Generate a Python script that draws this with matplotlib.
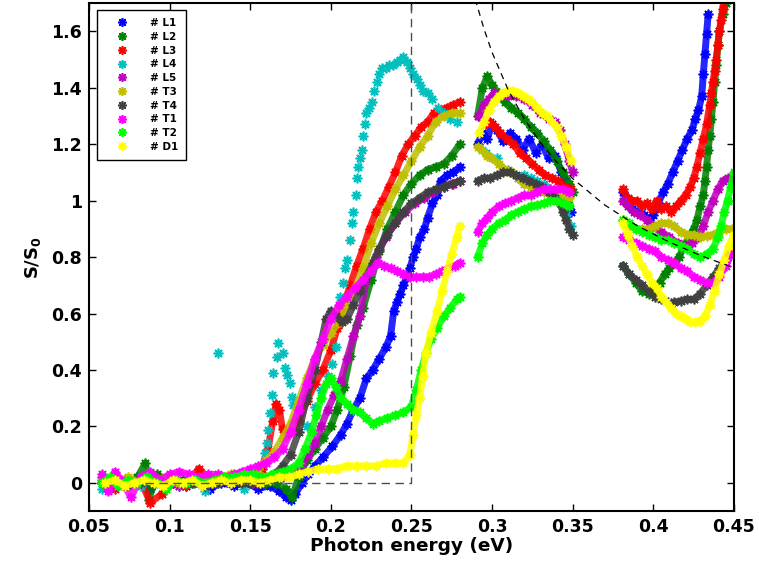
import numpy as np
import matplotlib
matplotlib.use("Agg")
import matplotlib.pyplot as plt

nan = np.nan

# photoresponse S/S0 vs photon energy, three spectral windows per sample (nan splits them)
l1_x = [0.058, 0.065, 0.072, 0.08, 0.088, 0.095, 0.102, 0.11, 0.118, 0.125, 0.132, 0.14, 0.147, 0.155, 0.162,
        0.168, 0.172, 0.175, 0.178, 0.182, 0.186, 0.19, 0.195, 0.201, 0.206, 0.21, 0.214, 0.218, 0.222, 0.226,
        0.23, 0.234, 0.237, 0.239, 0.241, 0.243, 0.245, 0.247, 0.249, 0.251, 0.253, 0.255, 0.258, 0.26, 0.263,
        0.266, 0.268, 0.272, 0.276, 0.28, nan,
        0.291, 0.294, 0.297, 0.3, 0.303, 0.307, 0.311, 0.315, 0.319, 0.323, 0.327, 0.331, 0.335, 0.339, 0.343,
        0.346, 0.349, nan,
        0.381, 0.384, 0.387, 0.39, 0.394, 0.397, 0.4, 0.403, 0.406, 0.409, 0.412, 0.415, 0.418, 0.421, 0.424,
        0.426, 0.428, 0.43, 0.431, 0.432, 0.433, 0.434]
l1_y = [0.0, -0.01, 0.01, 0.0, -0.02, 0.01, 0.0, -0.01, 0.0, -0.02, 0.0, -0.01, 0.0, -0.02, -0.01,
        -0.03, -0.05, -0.06, -0.04, 0.0, 0.03, 0.06, 0.09, 0.13, 0.17, 0.21, 0.26, 0.3, 0.37, 0.4,
        0.44, 0.48, 0.52, 0.61, 0.64, 0.67, 0.7, 0.73, 0.76, 0.8, 0.83, 0.87, 0.9, 0.94, 0.99,
        1.02, 1.07, 1.09, 1.1, 1.12, nan,
        1.2, 1.24, 1.22, 1.27, 1.25, 1.21, 1.24, 1.22, 1.18, 1.22, 1.17, 1.2, 1.15, 1.16, 1.1,
        1.07, 0.96, nan,
        1.03, 1.0, 0.97, 0.96, 0.95, 0.93, 0.95, 0.99, 1.03, 1.06, 1.1, 1.14, 1.18, 1.22, 1.25,
        1.29, 1.32, 1.37, 1.45, 1.52, 1.59, 1.66]

l2_x = [0.058, 0.065, 0.072, 0.08, 0.085, 0.087, 0.092, 0.1, 0.108, 0.115, 0.122, 0.13, 0.138, 0.145, 0.152,
        0.16, 0.166, 0.172, 0.176, 0.18, 0.185, 0.19, 0.195, 0.2, 0.204, 0.208, 0.212, 0.216, 0.22, 0.225,
        0.23, 0.235, 0.24, 0.245, 0.25, 0.255, 0.26, 0.265, 0.27, 0.275, 0.28, nan,
        0.291, 0.294, 0.297, 0.3, 0.304, 0.308, 0.312, 0.316, 0.32, 0.324, 0.328, 0.332, 0.336, 0.34, 0.344,
        0.348, 0.35, nan,
        0.381, 0.385, 0.389, 0.393, 0.397, 0.401, 0.404, 0.407, 0.41, 0.413, 0.416, 0.419, 0.422, 0.425, 0.427,
        0.429, 0.431, 0.432, 0.433, 0.434, 0.435, 0.436, 0.437, 0.438, 0.439, 0.44, 0.441, 0.443, 0.445]
l2_y = [0.0, 0.01, -0.01, 0.02, 0.07, -0.06, 0.03, 0.0, 0.01, 0.0, -0.01, 0.01, 0.0, 0.0, 0.01,
        0.0, 0.0, -0.02, -0.05, 0.02, 0.08, 0.12, 0.16, 0.2, 0.26, 0.34, 0.45, 0.56, 0.62, 0.72,
        0.82, 0.9, 0.96, 1.02, 1.06, 1.09, 1.11, 1.12, 1.13, 1.16, 1.2, nan,
        1.3, 1.4, 1.44, 1.41, 1.38, 1.35, 1.33, 1.31, 1.29, 1.26, 1.24, 1.21, 1.18, 1.14, 1.1,
        1.06, 1.03, nan,
        0.77, 0.74, 0.71, 0.68, 0.67, 0.68, 0.71, 0.74, 0.76, 0.78, 0.8, 0.84, 0.87, 0.9, 0.93,
        0.98, 1.02, 1.07, 1.12, 1.18, 1.23, 1.29, 1.35, 1.42, 1.48, 1.55, 1.6, 1.66, 1.7]

l3_x = [0.058, 0.066, 0.074, 0.082, 0.088, 0.095, 0.102, 0.11, 0.118, 0.126, 0.133, 0.14, 0.147, 0.152,
        0.157, 0.161, 0.164, 0.166, 0.168, 0.17, 0.172, 0.175, 0.18, 0.185, 0.19, 0.195, 0.2, 0.204, 0.208,
        0.212, 0.216, 0.22, 0.224, 0.228, 0.232, 0.236, 0.24, 0.244, 0.248, 0.252, 0.256, 0.26, 0.264, 0.268,
        0.272, 0.276, 0.28, nan,
        0.296, 0.299, 0.302, 0.305, 0.309, 0.313, 0.317, 0.321, 0.325, 0.329, 0.333, 0.337, 0.341, 0.345,
        0.349, nan,
        0.381, 0.384, 0.387, 0.39, 0.393, 0.396, 0.399, 0.402, 0.405, 0.408, 0.411, 0.414, 0.417, 0.42, 0.423,
        0.425, 0.427, 0.429, 0.431, 0.433, 0.435, 0.436, 0.437, 0.438, 0.439, 0.44, 0.441, 0.442, 0.443, 0.444]
l3_y = [0.01, -0.02, 0.0, 0.01, -0.07, -0.04, 0.0, -0.01, 0.05, 0.0, 0.01, 0.02, 0.03, 0.0,
        0.05, 0.12, 0.22, 0.28, 0.26, 0.19, 0.17, 0.18, 0.22, 0.29, 0.35, 0.4, 0.47, 0.55, 0.63,
        0.7, 0.77, 0.83, 0.9, 0.96, 1.0, 1.05, 1.1, 1.16, 1.2, 1.23, 1.26, 1.28, 1.31, 1.32,
        1.33, 1.34, 1.35, nan,
        1.27, 1.28, 1.26, 1.24, 1.22, 1.2, 1.17, 1.15, 1.13, 1.11, 1.09, 1.08, 1.07, 1.05,
        1.04, nan,
        1.04, 1.01, 1.0, 1.0, 0.98, 0.99, 0.97, 1.0, 0.97, 0.98, 0.96, 0.98, 1.0, 1.02, 1.05,
        1.08, 1.12, 1.17, 1.22, 1.27, 1.34, 1.38, 1.42, 1.46, 1.5, 1.55, 1.6, 1.64, 1.68, 1.72]

# L4 is sparse, markers only
l4_x = [0.058, 0.066, 0.074, 0.082, 0.09, 0.098, 0.106, 0.114, 0.122, 0.13, 0.138, 0.146, 0.152,
        0.1591, 0.1602, 0.1612, 0.1622, 0.1633, 0.1643, 0.1664, 0.1674, 0.1705, 0.1715, 0.1726, 0.1747,
        0.1757, 0.1767, 0.185, 0.19, 0.194, 0.198, 0.201, 0.203, 0.2057, 0.2076, 0.209, 0.21, 0.212, 0.213,
        0.214, 0.2155, 0.216, 0.217, 0.218, 0.219, 0.22, 0.221, 0.222, 0.2235, 0.2256, 0.227, 0.2286, 0.23,
        0.232, 0.234, 0.236, 0.2386, 0.241, 0.243, 0.2447, 0.247, 0.249, 0.251, 0.2534, 0.255, 0.257, 0.26,
        0.2627, 0.2665, 0.27, 0.274, 0.278, nan,
        0.296, 0.303, 0.31, 0.316, 0.32, 0.324, 0.328, 0.332, 0.336, 0.34, 0.343, 0.346, 0.349]
l4_y = [-0.02, 0.01, 0.0, -0.01, 0.02, 0.0, -0.01, 0.0, -0.03, 0.46, 0.0, -0.02, 0.01,
        0.106, 0.141, 0.188, 0.247, 0.311, 0.388, 0.447, 0.494, 0.459, 0.406, 0.382, 0.353,
        0.306, 0.276, 0.2, 0.27, 0.33, 0.38, 0.42, 0.48, 0.66, 0.71, 0.76, 0.79, 0.86, 0.92,
        0.96, 1.02, 1.08, 1.12, 1.15, 1.18, 1.23, 1.27, 1.31, 1.33, 1.35, 1.39, 1.42, 1.45,
        1.47, 1.47, 1.48, 1.48, 1.49, 1.5, 1.51, 1.49, 1.47, 1.45, 1.43, 1.41, 1.39, 1.38,
        1.36, 1.33, 1.31, 1.29, 1.28, nan,
        1.17, 1.15, 1.11, 1.08, 1.09, 1.08, 1.07, 1.06, 1.04, 1.02, 0.99, 0.95, 0.91]

l5_x = [0.058, 0.066, 0.074, 0.082, 0.09, 0.098, 0.106, 0.114, 0.122, 0.13, 0.138, 0.146, 0.154, 0.162,
        0.17, 0.176, 0.182, 0.186, 0.19, 0.194, 0.198, 0.202, 0.206, 0.21, 0.214, 0.218, 0.222, 0.228, 0.234,
        0.24, 0.246, 0.252, 0.258, 0.264, 0.27, 0.276, 0.28, nan,
        0.292, 0.295, 0.298, 0.301, 0.305, 0.31, 0.315, 0.32, 0.325, 0.33, 0.335, 0.339, 0.342, 0.345, 0.348,
        0.35, nan,
        0.381, 0.384, 0.388, 0.392, 0.396, 0.4, 0.405, 0.41, 0.415, 0.42, 0.424, 0.428, 0.431, 0.434, 0.437,
        0.44, 0.443, 0.446, 0.449]
l5_y = [0.02, -0.01, 0.01, 0.0, 0.02, 0.0, -0.01, 0.01, 0.0, 0.02, 0.0, 0.01, 0.0, 0.01,
        0.02, 0.04, 0.07, 0.1, 0.14, 0.2, 0.26, 0.31, 0.36, 0.44, 0.52, 0.59, 0.72, 0.8, 0.87,
        0.92, 0.96, 0.99, 1.01, 1.03, 1.05, 1.06, 1.07, nan,
        1.3, 1.34, 1.36, 1.38, 1.37, 1.37, 1.37, 1.36, 1.34, 1.31, 1.29, 1.28, 1.25, 1.2, 1.14,
        1.1, nan,
        1.0, 0.98, 0.96, 0.95, 0.93, 0.91, 0.89, 0.87, 0.85, 0.84, 0.85, 0.87, 0.91, 0.96, 1.0,
        1.04, 1.07, 1.08, 1.08]

t3_x = [0.058, 0.066, 0.074, 0.082, 0.09, 0.098, 0.106, 0.114, 0.122, 0.13, 0.138, 0.145, 0.15, 0.155,
        0.16, 0.165, 0.17, 0.175, 0.18, 0.185, 0.19, 0.195, 0.2, 0.205, 0.21, 0.215, 0.22, 0.225, 0.23,
        0.235, 0.24, 0.245, 0.25, 0.255, 0.26, 0.265, 0.27, 0.275, 0.28, nan,
        0.291, 0.294, 0.297, 0.3, 0.304, 0.308, 0.312, 0.316, 0.32, 0.324, 0.328, 0.332, 0.336, 0.34, 0.344,
        0.348, nan,
        0.381, 0.385, 0.389, 0.393, 0.397, 0.401, 0.405, 0.409, 0.413, 0.417, 0.421, 0.425, 0.429, 0.433,
        0.437, 0.441, 0.445, 0.449]
t3_y = [0.01, 0.0, 0.02, 0.0, 0.01, 0.02, 0.0, 0.01, 0.02, 0.02, 0.03, 0.03, 0.03, 0.05,
        0.08, 0.11, 0.16, 0.21, 0.29, 0.37, 0.44, 0.49, 0.53, 0.57, 0.63, 0.69, 0.76, 0.85, 0.92,
        0.98, 1.04, 1.09, 1.14, 1.19, 1.23, 1.28, 1.3, 1.31, 1.31, nan,
        1.19, 1.18, 1.16, 1.15, 1.13, 1.11, 1.1, 1.08, 1.06, 1.05, 1.04, 1.03, 1.02, 1.02, 1.01,
        1.01, nan,
        0.93, 0.91, 0.9, 0.9, 0.9, 0.91, 0.92, 0.92, 0.91, 0.89, 0.88, 0.88, 0.87, 0.875,
        0.88, 0.89, 0.9, 0.9]

t4_x = [0.058, 0.066, 0.074, 0.082, 0.09, 0.098, 0.106, 0.114, 0.122, 0.13, 0.138, 0.145, 0.15, 0.158,
        0.165, 0.17, 0.175, 0.18, 0.185, 0.19, 0.194, 0.197, 0.2, 0.203, 0.207, 0.21, 0.214, 0.218, 0.222,
        0.226, 0.23, 0.235, 0.24, 0.245, 0.25, 0.255, 0.26, 0.265, 0.27, 0.275, 0.28, nan,
        0.291, 0.295, 0.299, 0.303, 0.307, 0.311, 0.315, 0.319, 0.323, 0.327, 0.331, 0.335, 0.339, 0.342,
        0.344, 0.346, 0.348, 0.35, nan,
        0.381, 0.385, 0.389, 0.393, 0.397, 0.401, 0.405, 0.409, 0.413, 0.417, 0.421, 0.425, 0.429, 0.433,
        0.437, 0.441, 0.445, 0.449]
t4_y = [0.0, 0.01, -0.01, 0.0, 0.01, 0.0, 0.01, 0.0, -0.01, 0.0, 0.01, 0.0, 0.0, 0.01,
        0.03, 0.06, 0.1, 0.18, 0.3, 0.4, 0.5, 0.58, 0.61, 0.59, 0.57, 0.58, 0.63, 0.68, 0.73,
        0.78, 0.83, 0.88, 0.92, 0.96, 0.99, 1.01, 1.03, 1.04, 1.05, 1.06, 1.07, nan,
        1.07, 1.08, 1.08, 1.09, 1.1, 1.1, 1.09, 1.08, 1.07, 1.06, 1.05, 1.03, 1.01, 0.99,
        0.96, 0.93, 0.9, 0.88, nan,
        0.77, 0.74, 0.72, 0.7, 0.68, 0.66, 0.65, 0.64, 0.64, 0.645, 0.65, 0.65, 0.67, 0.7,
        0.73, 0.76, 0.79, 0.83]

t1_x = [0.058, 0.062, 0.066, 0.07, 0.076, 0.082, 0.088, 0.094, 0.1, 0.106, 0.112, 0.118, 0.124, 0.13,
        0.136, 0.14, 0.145, 0.15, 0.155, 0.16, 0.165, 0.17, 0.175, 0.18, 0.185, 0.19, 0.195, 0.2, 0.205,
        0.21, 0.215, 0.22, 0.225, 0.229, 0.233, 0.237, 0.241, 0.245, 0.249, 0.253, 0.257, 0.261, 0.265,
        0.269, 0.273, 0.277, 0.28, nan,
        0.291, 0.294, 0.297, 0.3, 0.304, 0.308, 0.312, 0.316, 0.32, 0.324, 0.328, 0.332, 0.336, 0.34, 0.344,
        0.348, nan,
        0.381, 0.385, 0.389, 0.393, 0.397, 0.401, 0.405, 0.409, 0.413, 0.417, 0.421, 0.425, 0.429, 0.433,
        0.437, 0.441, 0.445, 0.449]
t1_y = [0.03, -0.03, 0.04, 0.01, -0.05, 0.02, 0.04, 0.01, 0.03, 0.04, 0.03, 0.02, 0.03, 0.03,
        0.02, 0.03, 0.04, 0.05, 0.06, 0.07, 0.09, 0.12, 0.18, 0.26, 0.35, 0.44, 0.51, 0.58, 0.63,
        0.66, 0.69, 0.72, 0.75, 0.78, 0.77, 0.76, 0.75, 0.74, 0.73, 0.73, 0.73, 0.73, 0.74,
        0.75, 0.76, 0.77, 0.78, nan,
        0.89, 0.92, 0.94, 0.96, 0.98, 0.99, 1.0, 1.01, 1.02, 1.02, 1.03, 1.04, 1.04, 1.04, 1.04,
        1.03, nan,
        0.87, 0.86, 0.85, 0.84, 0.83, 0.82, 0.8, 0.79, 0.78, 0.76, 0.75, 0.73, 0.72, 0.71,
        0.71, 0.73, 0.77, 0.82]

t2_x = [0.058, 0.063, 0.068, 0.074, 0.08, 0.086, 0.092, 0.098, 0.104, 0.11, 0.116, 0.122, 0.128, 0.134,
        0.14, 0.146, 0.152, 0.158, 0.164, 0.17, 0.175, 0.18, 0.184, 0.188, 0.191, 0.194, 0.197, 0.2, 0.203,
        0.206, 0.21, 0.214, 0.218, 0.222, 0.226, 0.23, 0.235, 0.24, 0.245, 0.25, 0.253, 0.256, 0.259, 0.262,
        0.266, 0.27, 0.274, 0.278, 0.28, nan,
        0.291, 0.294, 0.297, 0.3, 0.304, 0.308, 0.312, 0.316, 0.32, 0.324, 0.328, 0.332, 0.336, 0.34, 0.344,
        0.348, nan,
        0.381, 0.385, 0.389, 0.393, 0.397, 0.401, 0.405, 0.409, 0.413, 0.417, 0.421, 0.425, 0.429, 0.433,
        0.437, 0.44, 0.442, 0.444, 0.446, 0.448, 0.45]
t2_y = [0.0, 0.02, -0.01, 0.01, 0.0, 0.02, 0.0, -0.02, 0.01, 0.0, 0.01, 0.0, 0.01, 0.02,
        0.02, 0.03, 0.03, 0.02, 0.03, 0.04, 0.05, 0.07, 0.12, 0.18, 0.24, 0.3, 0.35, 0.37, 0.34,
        0.3, 0.28, 0.26, 0.25, 0.23, 0.21, 0.22, 0.23, 0.24, 0.25, 0.27, 0.33, 0.4, 0.46, 0.51,
        0.55, 0.59, 0.62, 0.65, 0.66, nan,
        0.8, 0.85, 0.88, 0.9, 0.92, 0.93, 0.95, 0.96, 0.97, 0.98, 0.985, 0.99, 1.0, 1.0, 0.99,
        0.98, nan,
        0.93, 0.92, 0.9, 0.89, 0.88, 0.87, 0.86, 0.86, 0.85, 0.84, 0.83, 0.81, 0.8, 0.81,
        0.83, 0.87, 0.91, 0.96, 1.0, 1.05, 1.1]

d1_x = [0.06, 0.066, 0.072, 0.078, 0.084, 0.09, 0.096, 0.102, 0.108, 0.114, 0.12, 0.126, 0.132, 0.138,
        0.144, 0.15, 0.156, 0.162, 0.168, 0.174, 0.18, 0.186, 0.192, 0.198, 0.204, 0.21, 0.216, 0.222, 0.228,
        0.234, 0.24, 0.245, 0.249, 0.251, 0.253, 0.255, 0.257, 0.259, 0.262, 0.266, 0.269, 0.272, 0.275,
        0.278, 0.28, nan,
        0.292, 0.295, 0.298, 0.301, 0.304, 0.307, 0.31, 0.313, 0.316, 0.319, 0.322, 0.325, 0.328, 0.331,
        0.334, 0.337, 0.34, 0.343, 0.346, 0.349, nan,
        0.381, 0.384, 0.387, 0.39, 0.393, 0.396, 0.399, 0.402, 0.405, 0.408, 0.411, 0.414, 0.417, 0.42, 0.423,
        0.426, 0.429, 0.432, 0.435, 0.438, 0.441, 0.444, 0.447, 0.45]
d1_y = [0.0, 0.01, -0.01, 0.0, 0.01, 0.0, -0.01, 0.01, 0.0, 0.01, -0.01, 0.0, 0.01, 0.0,
        0.01, 0.01, 0.0, 0.01, 0.02, 0.02, 0.03, 0.04, 0.05, 0.05, 0.05, 0.06, 0.06, 0.06, 0.06,
        0.07, 0.07, 0.07, 0.1, 0.17, 0.24, 0.3, 0.38, 0.46, 0.53, 0.61, 0.68, 0.75, 0.81,
        0.87, 0.91, nan,
        1.24, 1.28, 1.32, 1.35, 1.37, 1.38, 1.39, 1.39, 1.38, 1.37, 1.36, 1.35, 1.33, 1.31,
        1.3, 1.28, 1.26, 1.23, 1.19, 1.14, nan,
        0.92, 0.88, 0.84, 0.8, 0.77, 0.74, 0.71, 0.69, 0.66, 0.64, 0.62, 0.6, 0.59, 0.58, 0.57,
        0.57, 0.575, 0.59, 0.63, 0.68, 0.74, 0.79, 0.84, 0.88]

# model: step at the gap edge, then decay
step_x = [0.085, 0.25, 0.25]
step_y = [0.0, 0.0, 1.7]
model_x = [0.288, 0.29, 0.295, 0.3, 0.31, 0.32, 0.33, 0.34, 0.35, 0.37, 0.39, 0.41, 0.43, 0.45]
model_y = [1.75, 1.705, 1.608, 1.525, 1.392, 1.289, 1.206, 1.137, 1.078, 0.984, 0.911, 0.853, 0.804, 0.762]

series = [
    ("# L1", l1_x, l1_y, (0, 0, 1)),
    ("# L2", l2_x, l2_y, (0, 0.5, 0)),
    ("# L3", l3_x, l3_y, (1, 0, 0)),
    ("# L4", l4_x, l4_y, (0, 0.75, 0.75)),
    ("# L5", l5_x, l5_y, (0.75, 0, 0.75)),
    ("# T3", t3_x, t3_y, (0.75, 0.75, 0)),
    ("# T4", t4_x, t4_y, (0.25, 0.25, 0.25)),
    ("# T1", t1_x, t1_y, (1, 0, 1)),
    ("# T2", t2_x, t2_y, (0, 1, 0)),
    ("# D1", d1_x, d1_y, (1, 1, 0)),
]

plt.rcParams['font.family'] = 'DejaVu Sans'
plt.rcParams['font.weight'] = 'bold'
plt.rcParams['mathtext.fontset'] = 'dejavusans'
plt.rcParams['mathtext.default'] = 'bf'

star = (8, 2, 0)

fig = plt.figure(figsize=(7.59, 5.73), dpi=100)
ax = fig.add_axes([0.1173, 0.108, 0.8497, 0.8866])

for name, xs, ys, col in series:
    xs = np.array(xs, dtype=float)
    ys = np.array(ys, dtype=float)
    if name != "# L4":
        ax.plot(xs, ys, '-', color=col, lw=5, alpha=0.85, solid_capstyle='round')
    ax.plot(xs, ys, linestyle='none', marker=star, ms=7, mew=1.2, color=col, label=name)

ax.plot(step_x, step_y, '--', color=(0.3, 0.3, 0.3), lw=1, dashes=(6, 4))
ax.plot(model_x, model_y, '--', color='black', lw=0.9, dashes=(5, 4))

ax.set_xlim(0.05, 0.45)
ax.set_ylim(-0.1, 1.7)
ax.set_xticks([0.05, 0.1, 0.15, 0.2, 0.25, 0.3, 0.35, 0.4, 0.45])
ax.set_xticklabels(['0.05', '0.1', '0.15', '0.2', '0.25', '0.3', '0.35', '0.4', '0.45'])
ax.set_yticks([0, 0.2, 0.4, 0.6, 0.8, 1.0, 1.2, 1.4, 1.6])
ax.set_yticklabels(['0', '0.2', '0.4', '0.6', '0.8', '1', '1.2', '1.4', '1.6'])
ax.tick_params(direction='in', top=True, right=True, length=5, width=1, labelsize=12.5, pad=5)
for s in ax.spines.values():
    s.set_linewidth(1.5)

ax.set_xlabel("Photon energy (eV)", fontsize=13.3, fontweight='bold', labelpad=1)
ax.set_ylabel("$S/S_0$", fontsize=13, labelpad=6)

leg = ax.legend(loc='upper left', bbox_to_anchor=(0.012, 0.987), borderaxespad=0, fontsize=7.5,
                frameon=True, fancybox=False, edgecolor='black', framealpha=1,
                handlelength=3.2, handletextpad=1.1, labelspacing=0.36, borderpad=0.8, markerscale=0.9)
leg.get_frame().set_linewidth(1)

fig.savefig("out.png", dpi=100)
